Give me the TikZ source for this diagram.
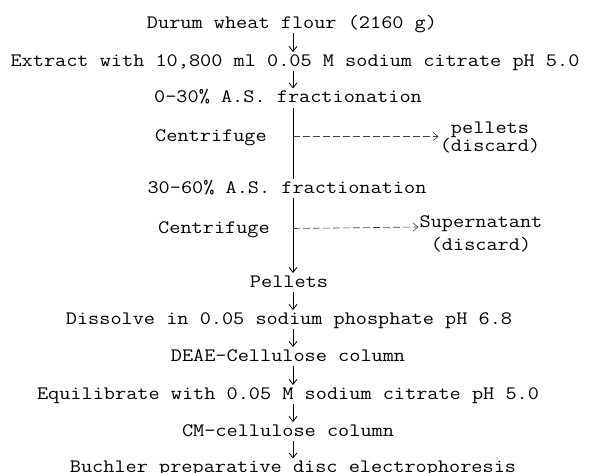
\documentclass[tikz,border=0pt]{standalone}
\usepackage{fontspec}
\newfontfamily\typewriter[FakeStretch=1.14]{lmmono12-regular.otf}
\usetikzlibrary{arrows.meta,positioning}

\begin{document}
\begin{tikzpicture}[
    x=1pt,
    y=-1pt,
    >={Straight Barb[length=5pt,width=8pt]},
    every node/.style={
        inner sep=1pt,
        font=\typewriter\fontsize{19}{20}\selectfont
    },
    stage/.style={
        text height=13pt,
        text depth=3.7pt
    },
    side/.style={
        align=center,
        inner sep=1pt
    },
    edge/.style={
        ->,
        line width=0.8pt
    },
    spineline/.style={
        line width=0.8pt
    },
    dashline/.style={
        ->,
        black!75,
        line width=0.6pt,
        dash pattern=on 7pt off 3pt
    }
]
\useasboundingbox (0,0) rectangle (589,473);

% Main column
\coordinate (spine) at (293,0);
\node[stage] (durum) at (292,23.5) {Durum wheat flour (2160 g)};
\node[stage] (extract) at (295,61.5) {Extract with 10,800 ml 0.05 M sodium citrate pH 5.0};
\node[stage] (frac1) at (288,98) {0-30\% A.S. fractionation};
\node[stage] (cent1) at (211,136.5) {Centrifuge};
\node[stage] (frac2) at (287,188.5) {30-60\% A.S. fractionation};
\node[stage] (cent2) at (214,228.5) {Centrifuge};
\node[stage] (pellets) at (289,282.5) {Pellets};
\node[stage] (dissolve) at (289,319.5) {Dissolve in 0.05 sodium phosphate pH 6.8};
\node[stage] (deae) at (288,356.5) {DEAE-Cellulose column};
\node[stage] (equil) at (288,394.5) {Equilibrate with 0.05 M sodium citrate pH 5.0};
\node[stage] (cm) at (288,431.5) {CM-cellulose column};
\node[stage] (buchler) at (293,468) {Buchler preparative disc electrophoresis};

% Discarded fractions
\node[side, font=\typewriter\fontsize{19}{18}\selectfont] (waste1) at (490,137) {pellets\\(discard)};
\node[side, font=\typewriter\fontsize{19}{23}\selectfont] (waste2) at (481,234) {Supernatant\\(discard)};

% Edges
\draw[edge] (durum.south -| spine) -- (extract.north -| spine);
\draw[edge] (extract.south -| spine) -- (frac1.north -| spine);
\draw[spineline] (frac1.south -| spine) -- (frac2.north -| spine);
\draw[edge] (frac2.south -| spine) -- (pellets.north -| spine);
\draw[edge] (pellets.south -| spine) -- (dissolve.north -| spine);
\draw[edge] (dissolve.south -| spine) -- (deae.north -| spine);
\draw[edge] (deae.south -| spine) -- (equil.north -| spine);
\draw[edge] (equil.south -| spine) -- (cm.north -| spine);
\draw[edge] (cm.south -| spine) -- (buchler.north -| spine);

% Side branches
\draw[dashline] (spine |- cent1) -- (cent1 -| waste1.west);
\draw[dashline] (spine |- cent2) -- ([yshift=1.5pt]cent2 -| waste2.west);

\end{tikzpicture}
\end{document}
